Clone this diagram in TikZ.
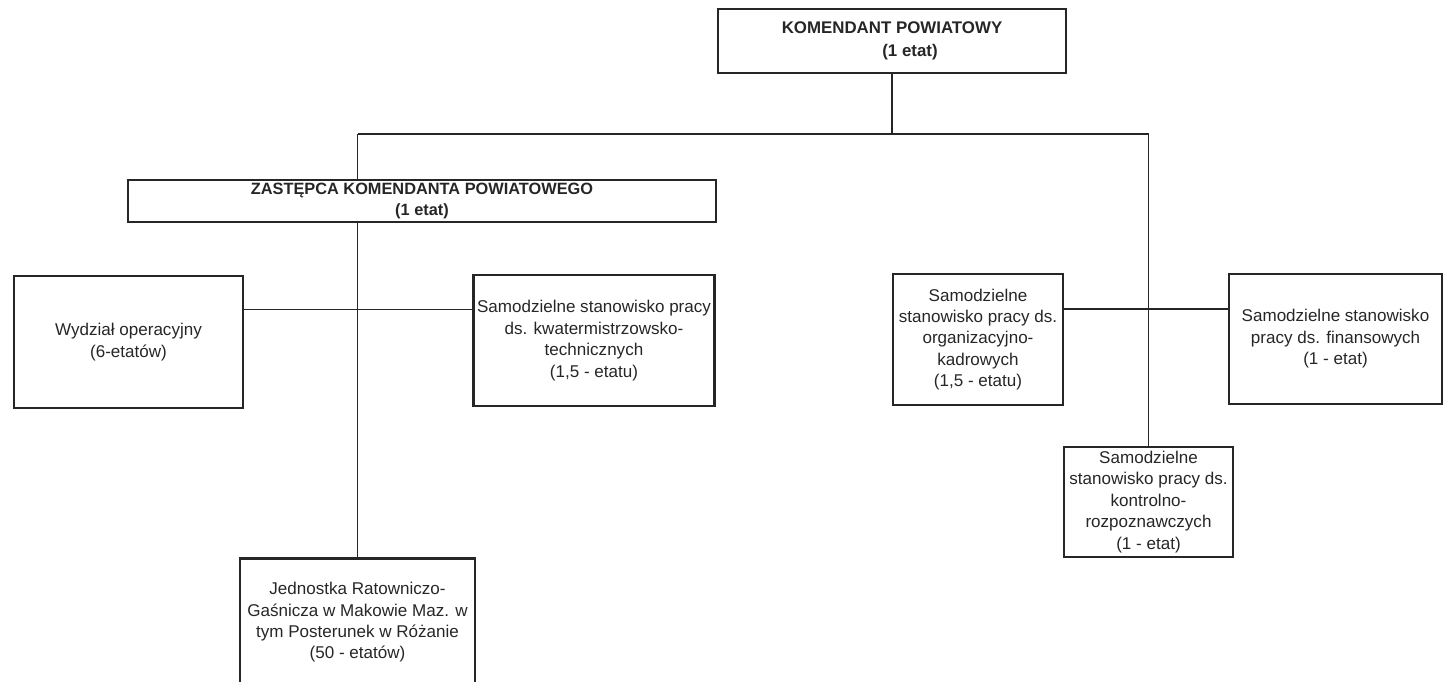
\documentclass[tikz,border=0pt]{standalone}
\usepackage{fontspec}
\setmainfont{Liberation Sans}
\usepackage{tikz}
\usetikzlibrary{positioning,calc}

\begin{document}
\begin{tikzpicture}[x=0.02cm,y=-0.02cm]
  \tikzstyle{Box}=[draw=black!85, line width=1.5pt, align=center, inner sep=1pt,
    text=black!85, font=\fontsize{9.7}{12.2}\selectfont]
  \tikzstyle{Head}=[Box, font=\bfseries\fontsize{9.6}{13.4}\selectfont]
  \tikzstyle{Line}=[draw=black!85, line width=0.85pt]
  \useasboundingbox (0,0) rectangle (1448,681);

  \node[Head, minimum width=6.96cm, minimum height=1.28cm] (kp) at (892,41)
    {KOMENDANT POWIATOWY\\\hspace*{0.72cm}(1 etat)};
  \node[Head, minimum width=11.76cm, minimum height=0.84cm,
    font=\bfseries\fontsize{9.3}{11.8}\selectfont] (zk) at (422,201)
    {ZASTĘPCA KOMENDANTA POWIATOWEGO\\(1 etat)};

  \node[Box, minimum width=4.58cm, minimum height=2.64cm] (wo) at (128.5,342)
    {Wydział operacyjny\\(6-etatów)};
  \node[Box, minimum width=4.82cm, minimum height=2.62cm] (kt) at (594,340.5)
    {Samodzielne stanowisko pracy\\ds. kwatermistrzowsko-\\technicznych\\(1,5 - etatu)};
  \node[Box, minimum width=3.4cm, minimum height=2.62cm] (ok) at (978,339.5)
    {Samodzielne\\stanowisko pracy ds.\\organizacyjno-\\kadrowych\\(1,5 - etatu)};
  \node[Box, minimum width=4.26cm, minimum height=2.6cm] (fn) at (1335.5,339)
    {Samodzielne stanowisko\\pracy ds. finansowych\\(1 - etat)};
  \node[Box, minimum width=3.38cm, minimum height=2.2cm] (kr) at (1148.5,502)
    {Samodzielne\\stanowisko pracy ds.\\kontrolno-\\rozpoznawczych\\(1 - etat)};
  \node[Box, anchor=north, minimum width=4.7cm, minimum height=2.56cm] (jr) at (357.5,557)
    {Jednostka Ratowniczo-\\Gaśnicza w Makowie Maz. w\\tym Posterunek w Różanie\\(50 - etatów)};

  \coordinate (hub) at (kp.south |- 0,134);
  \coordinate (hl) at (jr.north |- hub);
  \coordinate (hr) at (kr.north |- hub);
  \coordinate (lw) at ($(wo.north east)!0.26!(wo.south east)$);
  \coordinate (rw) at ($(ok.north east)!0.27!(ok.south east)$);

  \draw[Line] (kp.south) -- (hub);
  \draw[Line] (hl) -- (hr);
  \draw[Line] (hl) -- (hl |- zk.north);
  \draw[Line] (jr.north |- zk.south) -- (jr.north);
  \draw[Line] (hr) -- (kr.north);
  \draw[Line] (lw) -- (lw -| kt.west);
  \draw[Line] (rw) -- (rw -| fn.west);
\end{tikzpicture}
\end{document}
